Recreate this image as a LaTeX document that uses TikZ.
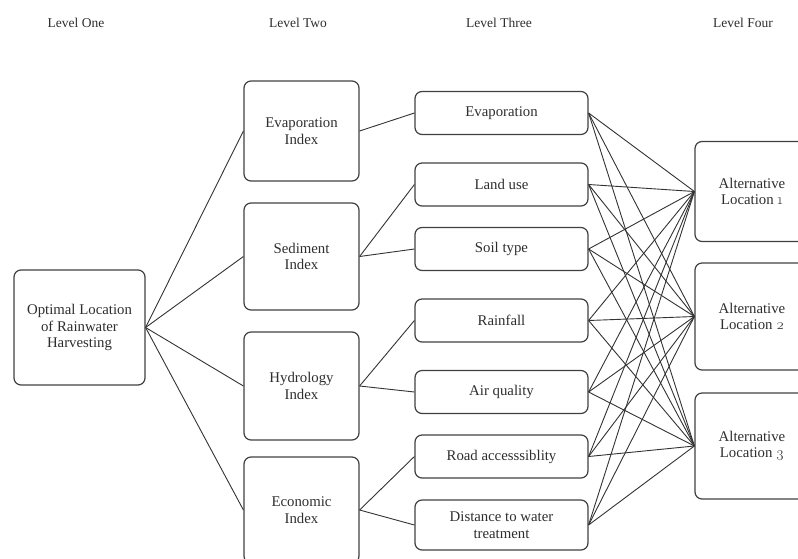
\documentclass[tikz,border=0pt]{standalone}
\usepackage{fontspec}
\setmainfont{Liberation Serif}
\newfontfamily\lmos{Latin Modern Roman}[Numbers=OldStyle]
\begin{document}
\begin{tikzpicture}[x=1pt,y=-1pt,
  box/.style={draw=black!75,line width=1.2pt,rounded corners=7pt,align=center,
    font=\fontsize{14.8}{16.8}\selectfont,text=black!82,inner sep=0pt},
  lbl/.style={align=center,font=\fontsize{14.8}{16.8}\selectfont,text=black!82,inner sep=0pt},
  title/.style={font=\fontsize{13.5}{15}\selectfont,text=black!82},
  link/.style={draw=black!80,line width=0.9pt}]
\useasboundingbox (0,0) rectangle (798,558);
\clip (0,0) rectangle (798,558);
% titles
\node[title] (t1) at (76,23) {Level One};
\node[title] (t2) at (298,23) {Level Two};
\node[title] (t3) at (499,23) {Level Three};
\node[title] (t4) at (743,23) {Level Four};
% level one
\node[box,minimum width=131,minimum height=115] (root) at (79.5,327.5)
  {Optimal Location\\of Rainwater\\Harvesting};
% level two
\node[box,minimum width=115,minimum height=100] (evi) at (301.5,131) {Evaporation\\Index};
\node[box,minimum width=115,minimum height=107] (sed) at (301.5,256.5) {Sediment\\Index};
\node[box,minimum width=115,minimum height=108] (hyd) at (301.5,386) {Hydrology\\Index};
\node[box,minimum width=115,minimum height=106] (eco) at (301.5,510) {Economic\\Index};
% level three
\node[box,minimum width=173,minimum height=43] (eva) at (501.5,113) {Evaporation};
\node[box,minimum width=173,minimum height=43] (lan) at (501.5,184.5) {Land use};
\node[box,minimum width=173,minimum height=43] (soi) at (501.5,249) {Soil type};
\node[box,minimum width=173,minimum height=43] (rai) at (501.5,320.5) {Rainfall};
\node[box,minimum width=173,minimum height=43] (air) at (501.5,392) {Air quality};
\node[box,minimum width=173,minimum height=43] (roa) at (501.5,456.5) {Road accesssiblity};
\node[box,minimum width=173,minimum height=50] (dis) at (501.5,525) {Distance to water\\treatment};
% level four
\node[box,minimum width=140,minimum height=100] (a1) at (765,191.5) {};
\node[box,minimum width=140,minimum height=107] (a2) at (765,316.5) {};
\node[box,minimum width=140,minimum height=106] (a3) at (765,446) {};
\node[lbl] (l1) at (752,191.5) {Alternative\\Location {\lmos 1}};
\node[lbl] (l2) at (752,316.5) {Alternative\\Location {\lmos 2}};
\node[lbl] (l3) at (752,446) {Alternative\\Location {\lmos 3}};
% connectors level one -> two
\foreach \n in {evi,sed,hyd,eco} \draw[link] (root.east) -- (\n.west);
% level two -> three
\draw[link] (evi.east) -- (eva.west);
\draw[link] (sed.east) -- (lan.west);
\draw[link] (sed.east) -- (soi.west);
\draw[link] (hyd.east) -- (rai.west);
\draw[link] (hyd.east) -- (air.west);
\draw[link] (eco.east) -- (roa.west);
\draw[link] (eco.east) -- (dis.west);
% level three -> four
\foreach \m in {eva,lan,soi,rai,air,roa,dis}
  \foreach \a in {a1,a2,a3}
    \draw[link] (\m.east) -- (\a.west);
\end{tikzpicture}
\end{document}
